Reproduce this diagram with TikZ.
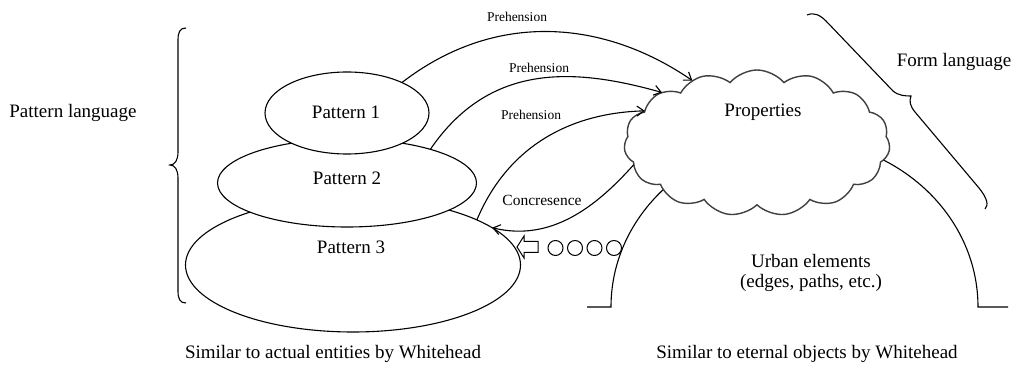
\documentclass[tikz,border=0pt]{standalone}
\usepackage{fontspec}
\setmainfont{Liberation Serif}
\usetikzlibrary{shapes.geometric,shapes.symbols,arrows.meta}
\begin{document}
\begin{tikzpicture}[x=1pt,y=-1pt,
  line width=1.1pt,
  every node/.style={inner sep=0pt, outer sep=0pt},
  patternshape/.style={draw, ellipse, fill=white},
  txt/.style={font=\fontsize{19}{20}\selectfont, align=center},
  smalltxt/.style={font=\fontsize{13.5}{16}\selectfont},
  midtxt/.style={font=\fontsize{15.5}{18}\selectfont},
  link/.style={-{Straight Barb[length=7pt,width=10pt]}},
]
\useasboundingbox (0,0) rectangle (1013,366);

% arch of the urban elements, partly hidden behind the cloud
\coordinate (archL) at (611,307);
\coordinate (archR) at (978,307);
\draw (587,307) -- (archL) arc[start angle=180, end angle=0, x radius=183.5, y radius=-168] -- (1008,307);

% cloud of properties
\node[cloud, draw=black!75, line width=1.4pt, fill=white, cloud puffs=15, cloud puff arc=100,
      aspect=1.85, minimum width=266, minimum height=146] (props) at (757,143) {};
\node[txt] (proptext) at (763,112) {Properties};

% stacked pattern ellipses
\node[patternshape, minimum width=335, minimum height=134] (p3) at (353,265) {};
\node[patternshape, minimum width=259, minimum height=88] (p2) at (347,183) {};
\node[patternshape, minimum width=164, minimum height=82] (p1) at (347,113) {};
\node[txt] (t1) at (346,112) {Pattern 1};
\node[txt] (t2) at (347,178) {Pattern 2};
\node[txt] (t3) at (351,247) {Pattern 3};

% prehension and concresence arrows
\draw[link] (p1.29) .. controls (496,10) and (604,20) .. (props.136);
\draw[link] (p2.22) .. controls (490,62) and (575,68) .. (props.152);
\draw[link] (p3.20) .. controls (507,148) and (568,113) .. (props.164);
\draw[link] (props.190) .. controls (596,207) and (551,242) .. (p3.15);
\node[smalltxt] (l1) at (517,17) {Prehension};
\node[smalltxt] (l2) at (539,68) {Prehension};
\node[smalltxt] (l3) at (531,115) {Prehension};
\node[midtxt] (l4) at (542,200) {Concresence};

% hollow arrow and row of circles
\draw[line width=1pt] (517,247) -- (524,236) -- (524,241.5) -- (538,241.5) -- (538,252.5)
  -- (524,252.5) -- (524,258) -- cycle;
\foreach \cx in {555.5,575,594.5,614}
  \draw[line width=1pt] (\cx,248) circle[radius=7.5];

% brace of the pattern language
\draw (186,28) .. controls (180,28) and (178,32) .. (178,40) -- (178,152)
  .. controls (178,160) and (175,165) .. (170,165)
  .. controls (175,165) and (178,170) .. (178,178) -- (178,291)
  .. controls (178,299) and (180,303) .. (186,303);

% brace of the form language
\draw (807,15) .. controls (814,12) and (820,15) .. (826,21) -- (893,91)
  .. controls (899,96) and (906,96) .. (911,96)
  .. controls (909,101) and (910,106) .. (915,112) -- (979,188)
  .. controls (987,198) and (989,205) .. (985,209);

% texts
\node[txt] (patlang) at (73,113) {Pattern language};
\node[txt] (formlang) at (954,62) {Form language};
\node[txt] (urban) at (811,273) {Urban elements\\(edges, paths, etc.)};
\node[txt] (actual) at (333,354) {Similar to actual entities by Whitehead};
\node[txt] (eternal) at (807,354) {Similar to eternal objects by Whitehead};
\end{tikzpicture}
\end{document}
